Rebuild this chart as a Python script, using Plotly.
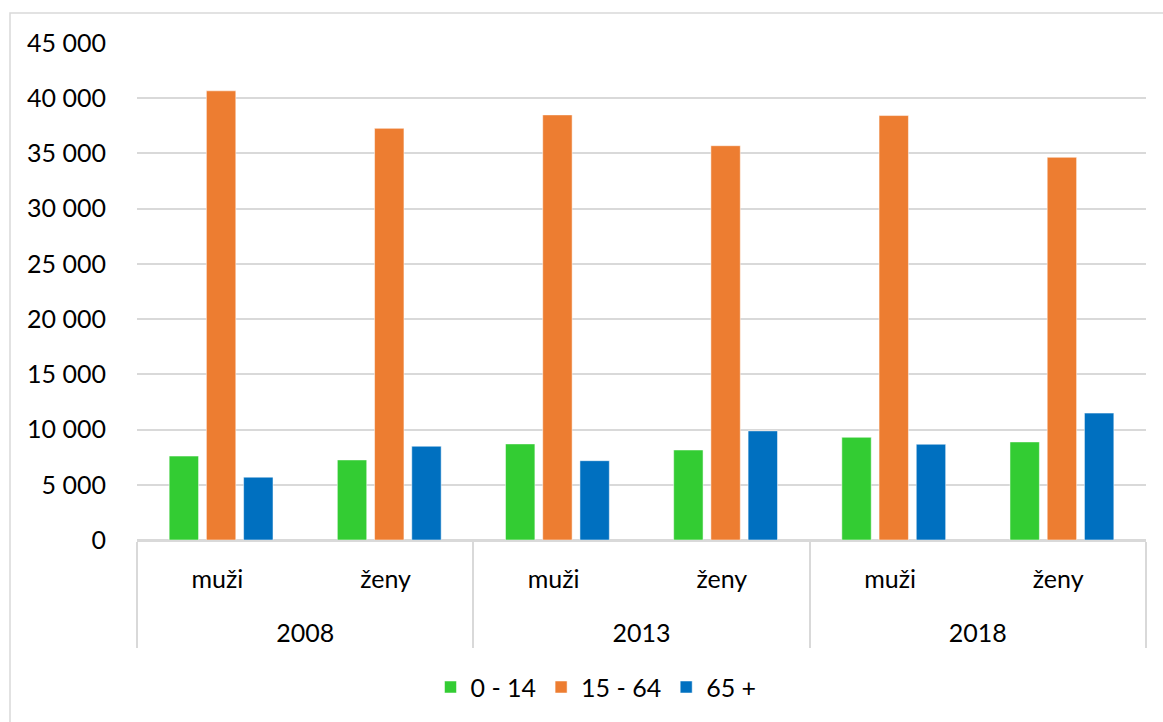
import plotly.graph_objects as go

years = ["2008", "2008", "2013", "2013", "2018", "2018"]
sexes = ["muži", "ženy", "muži", "ženy", "muži", "ženy"]
series_names = ["0 - 14", "15 - 64", "65 +"]
age_0_14 = [7600, 7250, 8700, 8150, 9300, 8880]
age_15_64 = [40670, 37270, 38490, 35700, 38430, 34650]
age_65_plus = [5690, 8490, 7180, 9880, 8670, 11490]
colors = ["#33CC33", "#ED7D31", "#0070C0"]
y_ticks = [0, 5000, 10000, 15000, 20000, 25000, 30000, 35000, 40000, 45000]

FONT = "Lato"
# label markup only adjusts the spacing between the two category levels
year_labels = ["<br>" + y for y in years]
sex_labels = [s + "<span style='font-size:29px'> </span>" for s in sexes]

fig = go.Figure()
for name, vals, col in zip(series_names, [age_0_14, age_15_64, age_65_plus], colors):
    fig.add_trace(go.Bar(
        x=[year_labels, sex_labels], y=vals, name=name,
        marker=dict(color=col, line=dict(color="rgba(255,255,255,0.5)", width=1)),
    ))

L, R = 137, 1146
T, B = 42.7, 540.5
W, H = 1163, 722

fig.update_layout(
    width=W, height=H,
    margin=dict(l=L, r=W - R, t=T, b=H - B, pad=0),
    paper_bgcolor="white", plot_bgcolor="white",
    barmode="group", bargap=0.336, bargroupgap=0.21,
    separators=", ",
    font=dict(family=FONT, size=25, color="#000000"),
    showlegend=True,
    legend=dict(orientation="h", x=(596 - L) / (R - L), xanchor="center",
                y=(B - 688) / (B - T), yanchor="middle",
                font=dict(family=FONT, size=25), itemwidth=30, traceorder="normal"),
    xaxis=dict(
        type="multicategory", showline=True, linecolor="#D9D9D9", linewidth=2,
        showdividers=True, dividercolor="#D9D9D9", dividerwidth=2,
        ticks="", ticklabelstandoff=16,
        tickfont=dict(family=FONT, size=25, color="#000000"),
        showgrid=False,
    ),
    yaxis=dict(
        range=[0, 45000], tickvals=y_ticks, tickformat=",d",
        showgrid=True, gridcolor="#D9D9D9", gridwidth=1.5,
        zeroline=True, zerolinecolor="#D9D9D9", zerolinewidth=2,
        showline=False, ticks="", ticklabelstandoff=30,
        tickfont=dict(family=FONT, size=25, color="#000000"),
    ),
    shapes=[dict(
        type="rect", xref="paper", yref="paper",
        x0=(10 - L) / (R - L), x1=(1175 - L) / (R - L),
        y0=(B - 735) / (B - T), y1=(B - 12.7) / (B - T),
        line=dict(color="#D9D9D9", width=1.5), fillcolor="rgba(0,0,0,0)", layer="below",
    )],
)

fig.write_html("out.html", post_script="document.body.style.margin='0';",
               config={"displayModeBar": False})
